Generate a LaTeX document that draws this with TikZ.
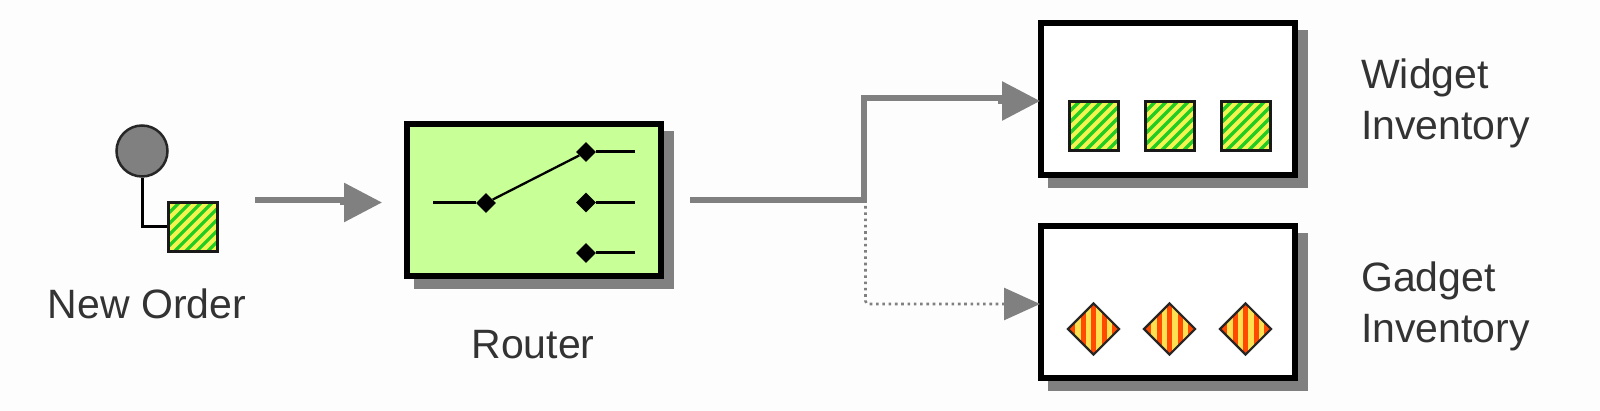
\documentclass[tikz,border=0pt]{standalone}
\usepackage{fontspec}
\setmainfont{Liberation Sans}
\usetikzlibrary{arrows.meta,shapes.geometric}
\definecolor{bgc}{HTML}{FDFDFD}
\definecolor{flowc}{HTML}{808080}
\definecolor{routerc}{HTML}{C8FF96}
\definecolor{hgreen}{HTML}{22CC22}
\definecolor{hyellow}{HTML}{F4F450}
\definecolor{hred}{HTML}{FF4A00}
\definecolor{hgold}{HTML}{FFE050}
\definecolor{txt}{HTML}{333333}
\tikzset{
  boxshape/.style={rectangle,draw=black,line width=6pt,minimum width=254pt,minimum height=152pt,inner sep=0pt},
  shadowshape/.style={rectangle,draw=flowc,fill=flowc,line width=6pt,minimum width=254pt,minimum height=152pt,inner sep=0pt},
  greenhatch/.style={rectangle,draw=black!90,line width=3pt,minimum size=49pt,inner sep=0pt,fill=hgreen,
    path picture={\foreach \i in {-5,...,5}{
      \draw[hyellow,line width=4.2pt] ([xshift=\i*11pt-40pt,yshift=-40pt]path picture bounding box.center) -- ([xshift=\i*11pt+40pt,yshift=40pt]path picture bounding box.center);}}},
  redhatch/.style={diamond,aspect=1,draw=black!85,line width=2.2pt,minimum size=52pt,inner sep=0pt,fill=hred,
    path picture={\foreach \i in {-3,...,3}{
      \draw[hgold,line width=5.5pt] ([xshift=\i*10.5pt+5.25pt,yshift=-40pt]path picture bounding box.center) -- ([xshift=\i*10.5pt+5.25pt,yshift=40pt]path picture bounding box.center);}}},
  contact/.style={diamond,aspect=1,fill=black,minimum size=20pt,inner sep=0pt},
  wire/.style={draw=black,line width=3pt},
  flow/.style={draw=flowc,line width=6pt,-{Triangle[length=38pt,width=38pt]}},
  dotflow/.style={draw=flowc,line width=2.6pt,dash pattern=on 2.6pt off 3.7pt,-{Triangle[length=36pt,width=32pt]}},
  label/.style={inner sep=0pt,text=txt,font=\fontsize{41}{51}\selectfont,align=left},
}
\begin{document}
\begin{tikzpicture}[x=1pt,y=-1pt]
\useasboundingbox[fill=bgc] (0,0) rectangle (1600,411);
% New Order
\node[circle,draw=black!85,fill=flowc,line width=2.5pt,minimum size=51pt,inner sep=0pt] (order) at (142,151) {};
\node[greenhatch] (msg) at (193.3,227) {};
\draw[wire] (order.south) |- (msg.west);
\node[label,anchor=center] (neworder) at (147,304) {New Order};
% Router
\node[shadowshape] (routershadow) at (543.5,210) {};
\node[boxshape,fill=routerc] (router) at (534,200) {};
\node[contact] (sw0) at (486,203) {};
\node[contact] (sw1) at (586,152) {};
\node[contact] (sw2) at (586,202.5) {};
\node[contact] (sw3) at (586,253) {};
\coordinate (in0) at (433,203);
\coordinate (out1) at (635,152);
\coordinate (out2) at (635,202.5);
\coordinate (out3) at (635,253);
\draw[wire] (in0) -- (sw0);
\draw[wire] (sw1) -- (out1);
\draw[wire] (sw2) -- (out2);
\draw[wire] (sw3) -- (out3);
\draw[wire,line width=2.3pt] (sw0) -- (sw1);
\node[label,anchor=center] (routerlabel) at (533,345) {Router};
% Inventories
\node[shadowshape] (wshadow) at (1177.5,109) {};
\node[boxshape,fill=white] (widget) at (1168,99) {};
\node[shadowshape] (gshadow) at (1177.5,312) {};
\node[boxshape,fill=white] (gadget) at (1168,302) {};
\node[greenhatch] (w1) at (1093.5,126) {};
\node[greenhatch] (w2) at (1169.5,126) {};
\node[greenhatch] (w3) at (1245.5,126) {};
\node[redhatch] (g1) at (1093.5,329) {};
\node[redhatch] (g2) at (1169.5,329) {};
\node[redhatch] (g3) at (1245.5,329) {};
\node[label,anchor=west] (wlabel) at (1361,103) {Widget\\Inventory};
\node[label,anchor=west] (glabel) at (1361,306) {Gadget\\Inventory};
% Connectors
\coordinate (orderout) at (255,200.5);
\coordinate (headjog) at (343,200.5);
\coordinate (headjogb) at (343,202.5);
\coordinate (routerin) at (382,202.5);
\draw[flow] (orderout) -- (headjog) -- (headjogb) -- (routerin);
\coordinate (routerout) at (690,200.5);
\coordinate (branch) at (863.5,200.5);
\coordinate (wjog) at (1001,98.5);
\coordinate (wjogb) at (1001,101);
\coordinate (wtip) at (1040,101);
\coordinate (dotstart) at (865.5,206);
\coordinate (gtip) at (1040,304);
\draw[dotflow,rounded corners=3pt] (dotstart) |- (gtip);
\draw[flow] (routerout) -- (branch) |- (wjog) -- (wjogb) -- (wtip);
\end{tikzpicture}
\end{document}
